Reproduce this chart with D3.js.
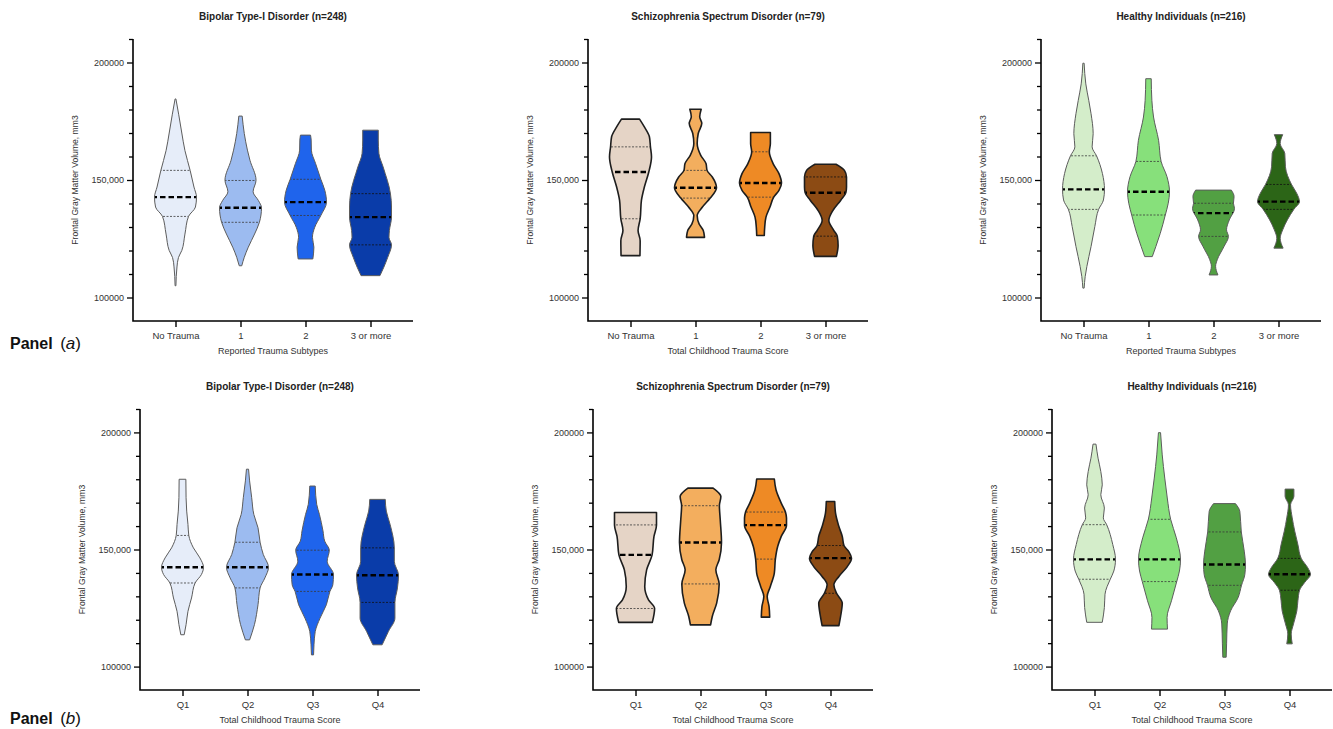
<!DOCTYPE html>
<html><head><meta charset="utf-8">
<script src="https://cdn.jsdelivr.net/npm/d3@7"></script>
<style>body{margin:0;background:#fff}svg{display:block}text{font-family:Arial,'Liberation Sans',sans-serif}</style>
</head><body>
<svg id="c" width="1333" height="729"></svg>
<script>
// ---------------- DATA ----------------
const titles = ["Bipolar Type-I Disorder (n=248)", "Schizophrenia Spectrum Disorder (n=79)", "Healthy Individuals (n=216)",
                "Bipolar Type-I Disorder (n=248)", "Schizophrenia Spectrum Disorder (n=79)", "Healthy Individuals (n=216)"];
const xTitles = ["Reported Trauma Subtypes", "Total Childhood Trauma Score", "Reported Trauma Subtypes",
                 "Total Childhood Trauma Score", "Total Childhood Trauma Score", "Total Childhood Trauma Score"];
const yTitle = "Frontal Gray Matter Volume, mm3";
const catsSubtypes = ["No Trauma", "1", "2", "3 or more"];
const catsQuartiles = ["Q1", "Q2", "Q3", "Q4"];
const yDomain = [90000, 210000];
const yMajorTicks = [100000, 150000, 200000];
const yMajorLabels = ["100000", "150,000", "200000"];
const yMinorTicks = [110000, 120000, 130000, 140000, 160000, 170000, 180000, 190000, 210000];
const panelLabels = ["a", "b"];

const blues = ["#e6edf9", "#9cbbf0", "#1f64ec", "#0a3ca9"];
const oranges = ["#e5d4c6", "#f3ae5e", "#ee8a25", "#8c4b14"];
const greens = ["#d4edca", "#87e07b", "#52a043", "#2c6517"];

// violin profiles: [volume, relative density width]
const bipolarSubtypeProfiles = [
  [[184500,0.02],[178000,0.15],[170000,0.3],[162500,0.45],[154000,0.7],[147000,0.88],[142700,1.0],[138500,0.95],[134500,0.62],[127000,0.45],[120000,0.3],[117000,0.14],[113000,0.07],[105000,0.02]],
  [[177200,0.08],[169800,0.18],[162700,0.33],[158400,0.45],[149900,0.74],[145000,0.6],[141300,0.85],[138200,1.0],[132000,0.9],[127000,0.67],[121400,0.37],[117100,0.18],[113500,0.06]],
  [[169100,0.24],[167000,0.27],[162700,0.28],[157000,0.48],[150300,0.73],[145600,0.92],[140600,1.0],[134900,0.73],[129900,0.44],[125600,0.33],[121400,0.4],[116400,0.35]],
  [[171200,0.37],[167000,0.37],[161300,0.4],[155600,0.6],[144200,0.95],[138500,1.0],[134200,1.0],[128500,0.9],[125600,0.88],[122400,1.0],[117100,0.82],[112800,0.63],[109300,0.45]]
];
const bipolarSubtypeQuartiles = [[134500,142700,154100],[132000,138200,149800],[134900,140600,150300],[122400,134200,144200]];

const schizSubtypeProfiles = [
  [[175900,0.43],[172600,0.66],[168400,0.9],[164100,0.95],[159800,1.0],[153400,0.87],[147000,0.66],[141300,0.52],[133500,0.46],[128500,0.36],[124200,0.46],[117800,0.45]],
  [[180100,0.27],[176900,0.2],[174100,0.3],[169800,0.13],[165500,0.08],[160500,0.25],[157000,0.5],[154100,0.55],[151300,0.8],[146700,1.0],[142300,0.7],[138500,0.33],[134900,0.08],[131300,0.17],[128500,0.37],[125600,0.43]],
  [[170200,0.47],[165500,0.47],[162000,0.42],[157000,0.6],[152700,0.88],[148700,1.0],[145600,0.88],[142700,0.63],[138500,0.45],[134200,0.26],[129900,0.2],[126400,0.18]],
  [[156700,0.5],[154100,0.9],[151300,1.0],[147000,1.0],[144600,0.97],[141300,0.72],[137000,0.35],[132800,0.16],[128500,0.4],[126100,0.56],[122100,0.6],[117500,0.52]]
];
const schizSubtypeQuartiles = [[133500,153400,164100],[142300,146700,154100],[142700,148700,162000],[126100,144600,151300]];

const healthySubtypeProfiles = [
  [[199700,0.03],[190900,0.11],[183900,0.25],[178200,0.36],[169700,0.46],[164100,0.41],[160300,0.62],[152800,0.9],[146000,1.0],[141500,0.95],[137500,0.72],[130200,0.54],[121700,0.36],[113200,0.16],[108900,0.08],[104000,0.03]],
  [[193100,0.13],[183900,0.16],[176800,0.24],[166900,0.48],[157900,0.6],[151400,0.88],[145000,1.0],[140100,0.94],[135100,0.8],[127300,0.56],[121700,0.35],[117400,0.18]],
  [[145700,0.85],[142900,0.98],[140100,0.95],[137900,1.0],[133000,0.75],[128800,0.62],[126000,0.71],[121700,0.5],[116100,0.18],[113300,0.1],[109600,0.21]],
  [[169300,0.2],[165500,0.08],[161300,0.3],[155600,0.33],[148100,0.62],[144300,0.87],[140800,1.0],[137500,0.73],[133000,0.42],[128800,0.2],[125200,0.08],[121000,0.22]]
];
const healthySubtypeQuartiles = [[137500,146000,160300],[135100,145000,157900],[126000,135900,140100],[137500,140800,148100]];

const bipolarQuartileProfiles = [
  [[180000,0.16],[172100,0.17],[166400,0.2],[160700,0.26],[156000,0.3],[150700,0.52],[146400,0.83],[142400,1.0],[139300,0.9],[135700,0.6],[129300,0.43],[123600,0.26],[117900,0.17],[113600,0.08]],
  [[184300,0.05],[179300,0.1],[172100,0.2],[165000,0.3],[159300,0.5],[153100,0.6],[147900,0.75],[142400,1.0],[137900,0.83],[133600,0.6],[126400,0.5],[117900,0.33],[111400,0.1]],
  [[177100,0.13],[169300,0.2],[165000,0.33],[157900,0.5],[153600,0.58],[149700,0.8],[145000,0.7],[139300,1.0],[135000,0.97],[132100,0.83],[126400,0.66],[120700,0.36],[115000,0.13],[109300,0.07],[105000,0.05]],
  [[171400,0.37],[166400,0.42],[160700,0.6],[150700,0.8],[145000,0.8],[139000,1.0],[133600,0.95],[127400,0.83],[120700,0.83],[115000,0.52],[109300,0.22]]
];
const bipolarQuartileQuartiles = [[135700,142400,156000],[133600,142400,153100],[132100,139300,149700],[127400,139000,150700]];

const schizQuartileProfiles = [
  [[165800,1.0],[160500,1.0],[155600,0.88],[147700,0.79],[141300,0.53],[134200,0.44],[128500,0.62],[124800,0.91],[118900,0.8]],
  [[176200,0.6],[172600,0.97],[168700,0.9],[162700,0.94],[153000,1.0],[145600,0.89],[141300,0.73],[135300,0.89],[127100,0.77],[121400,0.56],[117800,0.48]],
  [[180100,0.42],[175500,0.5],[169800,0.75],[166000,0.95],[163400,1.0],[160400,1.0],[155600,0.75],[151300,0.58],[145900,0.47],[139900,0.42],[134200,0.23],[129900,0.08],[125600,0.17],[121100,0.2]],
  [[170500,0.2],[165500,0.24],[159800,0.4],[155600,0.56],[151700,0.64],[149100,0.87],[146300,1.0],[142700,0.8],[138500,0.4],[134900,0.16],[131300,0.29],[127100,0.56],[121400,0.48],[117500,0.4]]
];
const schizQuartileQuartiles = [[124800,147700,160500],[135300,153000,168700],[145900,160400,166000],[131300,146300,151700]];

const healthyQuartileProfiles = [
  [[195000,0.07],[189000,0.17],[183300,0.3],[177600,0.37],[173400,0.3],[167700,0.47],[163500,0.42],[160600,0.58],[152100,0.87],[145800,1.0],[140800,0.92],[137300,0.75],[130900,0.5],[125200,0.47],[118900,0.37]],
  [[199900,0.05],[190400,0.13],[180500,0.25],[172000,0.37],[162900,0.53],[155000,0.8],[145800,1.0],[140800,0.95],[136300,0.82],[128100,0.57],[121000,0.36],[116000,0.38]],
  [[169600,0.52],[166300,0.73],[157500,0.8],[149300,0.94],[143600,1.0],[139400,0.97],[134700,0.81],[129500,0.65],[123800,0.29],[118200,0.13],[109700,0.1],[104000,0.08]],
  [[175800,0.21],[172700,0.21],[169100,0.05],[163500,0.13],[157800,0.25],[152100,0.4],[146200,0.56],[142200,0.87],[139400,1.0],[135900,0.72],[132600,0.48],[128100,0.4],[123800,0.35],[118200,0.19],[113900,0.08],[109700,0.13]]
];
const healthyQuartileQuartiles = [[137300,145800,160600],[136300,145800,162900],[134700,143600,157500],[132600,139400,146200]];

// ---------------- CHART ----------------
const panels = [
  {profiles: bipolarSubtypeProfiles, quart: bipolarSubtypeQuartiles, cats: catsSubtypes, colors: blues, style: "light"},
  {profiles: schizSubtypeProfiles, quart: schizSubtypeQuartiles, cats: catsSubtypes, colors: oranges, style: "dark"},
  {profiles: healthySubtypeProfiles, quart: healthySubtypeQuartiles, cats: catsSubtypes, colors: greens, style: "light"},
  {profiles: bipolarQuartileProfiles, quart: bipolarQuartileQuartiles, cats: catsQuartiles, colors: blues, style: "light"},
  {profiles: schizQuartileProfiles, quart: schizQuartileQuartiles, cats: catsQuartiles, colors: oranges, style: "dark"},
  {profiles: healthyQuartileProfiles, quart: healthyQuartileQuartiles, cats: catsQuartiles, colors: greens, style: "light"}
];
const frames = [
  {left: 133, yr: [321, 39]}, {left: 588, yr: [321, 39]}, {left: 1041, yr: [321, 39]},
  {left: 140, yr: [690, 409]}, {left: 593, yr: [690, 409]}, {left: 1052, yr: [690, 409]}
];
const AXW = 280, HW = 21;
const svg = d3.select('#c');
let clipId = 0;

panels.forEach((p, i) => {
  const f = frames[i];
  const g = svg.append('g');
  const y = d3.scaleLinear().domain(yDomain).range(f.yr);
  const x = d3.scalePoint().domain(p.cats).range([f.left + 42.5, f.left + 42.5 + 195]);
  const w = d3.scaleLinear().domain([0, 1]).range([0, HW]);
  const outline = p.style === "dark" ? {c: "#1e1e1e", w: 1.6} : {c: "#5c5c5c", w: 1};

  // violins
  p.profiles.forEach((prof, j) => {
    const cx = x(p.cats[j]);
    const pts = prof.slice().sort((a, b) => b[0] - a[0]);
    const area = d3.area().curve(d3.curveMonotoneY)
      .y(d => y(d[0])).x0(d => cx - w(d[1])).x1(d => cx + w(d[1]));
    const dpath = area(pts);
    const id = 'clip' + (clipId++);
    g.append('clipPath').attr('id', id).append('path').attr('d', dpath);
    g.append('path').attr('d', dpath).attr('fill', p.colors[j]);
    const q = p.quart[j];
    const lg = g.append('g').attr('clip-path', `url(#${id})`);
    [q[0], q[2]].forEach(v => {
      lg.append('line').attr('x1', cx - HW - 2).attr('x2', cx + HW + 2)
        .attr('y1', y(v)).attr('y2', y(v))
        .attr('stroke', j === 3 ? '#111' : '#3a3a3a').attr('stroke-width', 0.8).attr('stroke-dasharray', '2,1.5');
    });
    lg.append('line').attr('x1', cx - HW - 2).attr('x2', cx + HW + 2)
      .attr('y1', y(q[1])).attr('y2', y(q[1]))
      .attr('stroke', '#000').attr('stroke-width', 2.4).attr('stroke-dasharray', '5.5,3').attr('stroke-dashoffset', 1);
    g.append('path').attr('d', dpath).attr('fill', 'none')
      .attr('stroke', outline.c).attr('stroke-width', outline.w).attr('stroke-linejoin', 'round');
  });

  // y axis
  const yAxMajor = d3.axisLeft(y).tickValues(yMajorTicks).tickSize(6).tickPadding(3)
    .tickFormat(d => yMajorLabels[yMajorTicks.indexOf(d)]);
  const ga = g.append('g').attr('transform', `translate(${f.left},0)`).call(yAxMajor);
  ga.select('.domain').remove();
  ga.selectAll('line').attr('stroke', '#000').attr('stroke-width', 1.3);
  ga.selectAll('text').attr('font-size', 9).attr('fill', '#333').attr('font-family', "Arial,'Liberation Sans',sans-serif");
  const gm = g.append('g').attr('transform', `translate(${f.left},0)`)
    .call(d3.axisLeft(y).tickValues(yMinorTicks).tickSize(4).tickFormat(''));
  gm.select('.domain').remove();
  gm.selectAll('line').attr('stroke', '#000').attr('stroke-width', 1.3);

  // x axis
  const gx = g.append('g').attr('transform', `translate(0,${f.yr[0]})`)
    .call(d3.axisBottom(x).tickSize(6).tickPadding(5));
  gx.select('.domain').remove();
  gx.selectAll('line').attr('stroke', '#000').attr('stroke-width', 1.4);
  gx.selectAll('text').attr('font-size', 9.5).attr('fill', '#333').attr('font-family', "Arial,'Liberation Sans',sans-serif");

  // spines
  g.append('path')
    .attr('d', `M${f.left},${f.yr[1]}V${f.yr[0]}H${f.left + AXW}`)
    .attr('fill', 'none').attr('stroke', '#000').attr('stroke-width', 1.6);

  // texts
  g.append('text').attr('x', f.left + AXW / 2).attr('y', f.yr[1] - 19.5)
    .attr('text-anchor', 'middle').attr('font-size', 10).attr('font-weight', 'bold').attr('fill', '#222')
    .text(titles[i]);
  g.append('text').attr('x', f.left + AXW / 2).attr('y', f.yr[0] + 32.5)
    .attr('text-anchor', 'middle').attr('font-size', 9).attr('fill', '#333')
    .text(xTitles[i]);
  g.append('text')
    .attr('transform', `translate(${f.left - 55},${y(150000)}) rotate(-90)`)
    .attr('text-anchor', 'middle').attr('font-size', 8.6).attr('fill', '#333')
    .text(yTitle);
});

// panel labels
[349, 724].forEach((by, k) => {
  const t = svg.append('text').attr('x', 10).attr('y', by).attr('fill', '#111');
  t.append('tspan').attr('font-size', 16).attr('font-weight', 'bold').text('Panel ');
  t.append('tspan').attr('font-size', 17).attr('dx', 3).text('(');
  t.append('tspan').attr('font-size', 17).attr('font-style', 'italic').text(panelLabels[k]);
  t.append('tspan').attr('font-size', 17).text(')');
});
</script>
</body></html>
